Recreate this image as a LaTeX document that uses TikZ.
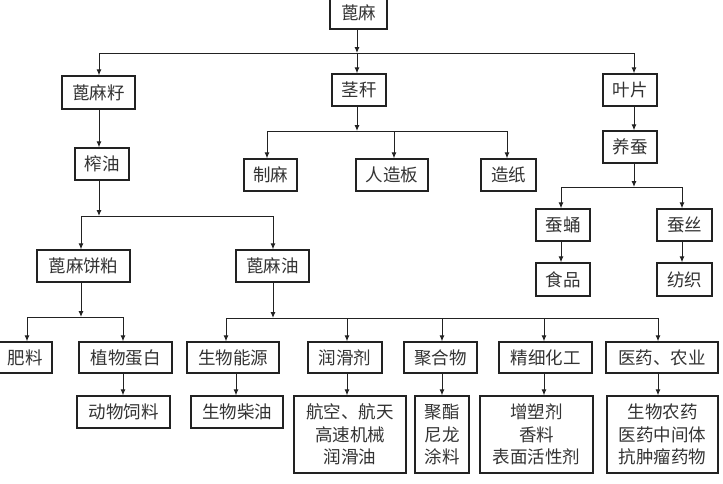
\documentclass[tikz,border=0pt]{standalone}
\usepackage{fontspec}
\newfontfamily\cjk{Noto Sans CJK SC}
\usetikzlibrary{arrows.meta}
\definecolor{ink}{HTML}{222222}
\definecolor{txt}{HTML}{333333}
\newcommand\bx[6]{\node[box,minimum width={#3-#2},minimum height={#5-#4}] (#1) at ({(#2+#3)/2},{(#4+#5)/2}) {#6};}
\begin{document}
\begin{tikzpicture}[x=1pt,y=-1pt,
  box/.style={draw=ink,line width=1.3pt,inner sep=0pt,align=center,text=txt,
    font=\cjk\fontsize{17.5}{22.5}\selectfont},
  con/.style={draw=ink,line width=1pt},
  arr/.style={con,-{Latex[length=6pt,width=5pt]}}]
\useasboundingbox (0,0) rectangle (723,483);
\fill[white] (0,0) rectangle (723,483);
% boxes
\bx{root}{330}{387}{-4}{29}{蓖麻}
\bx{seed}{62}{135}{76}{109}{蓖麻籽}
\bx{stem}{332}{386}{74}{106}{茎秆}
\bx{leaf}{603}{657}{74}{106}{叶片}
\bx{press}{75}{129}{148}{180}{榨油}
\bx{hemp}{244}{297}{159}{191}{制麻}
\bx{board}{356}{428}{159}{191}{人造板}
\bx{paper}{481}{536}{159}{191}{造纸}
\bx{rear}{603}{657}{131}{163}{养蚕}
\bx{pupa}{536}{590}{209}{241}{蚕蛹}
\bx{thread}{657}{712}{209}{241}{蚕丝}
\bx{food}{536}{590}{263}{296}{食品}
\bx{textile}{657}{712}{263}{296}{纺织}
\bx{cake}{37}{130}{250}{282}{蓖麻饼粕}
\bx{oil}{236}{309}{250}{282}{蓖麻油}
\bx{fert}{-1}{52}{342}{373}{肥料}
\bx{protein}{79}{172}{342}{373}{植物蛋白}
\bx{feed}{77}{170}{396}{428}{动物饲料}
\bx{energy}{187}{279}{342}{373}{生物能源}
\bx{diesel}{191}{283}{396}{428}{生物柴油}
\bx{lube}{308}{382}{342}{373}{润滑剂}
\bx{aero}{294}{406}{396}{473}{航空、航天\\高速机械\\润滑油}
\bx{poly}{404}{477}{342}{373}{聚合物}
\bx{polyester}{415}{469}{396}{473}{聚酯\\尼龙\\涂料}
\bx{fine}{499}{592}{342}{373}{精细化工}
\bx{plast}{480}{593}{396}{473}{增塑剂\\香料\\表面活性剂}
\bx{med}{606}{718}{342}{373}{医药、农业}
\bx{bio}{607}{718}{396}{473}{生物农药\\医药中间体\\抗肿瘤药物}
% junctions
\coordinate (j1) at (357,53); \coordinate (j1L) at (99,53); \coordinate (j1R) at (634,53);
\coordinate (j2) at (99,216); \coordinate (j2L) at (81,216); \coordinate (j2R) at (273,216);
\coordinate (j3) at (357,131); \coordinate (j3L) at (267,131); \coordinate (j3M) at (394,131); \coordinate (j3R) at (507,131);
\coordinate (j4) at (634,187); \coordinate (j4L) at (561,187); \coordinate (j4R) at (682,187);
\coordinate (j5) at (81,317); \coordinate (j5L) at (27,317); \coordinate (j5R) at (123,317);
\coordinate (j6) at (273,318); \coordinate (j6a) at (226,318); \coordinate (j6b) at (347,318);
\coordinate (j6c) at (442,318); \coordinate (j6d) at (544,318); \coordinate (j6e) at (658,318);
\coordinate (e1) at (236,385);
% level 1
\draw[arr] (j1 |- root.south) -- (j1);
\draw[con] (j1L) -- (j1R);
\draw[arr] (j1L) -- (j1L |- seed.north);
\draw[arr] (j1) -- (j1 |- stem.north);
\draw[arr] (j1R) -- (j1R |- leaf.north);
% seed branch
\draw[arr] (j1L |- seed.south) -- (j1L |- press.north);
\draw[arr] (j2 |- press.south) -- (j2);
\draw[con] (j2L) -- (j2R);
\draw[arr] (j2L) -- (j2L |- cake.north);
\draw[arr] (j2R) -- (j2R |- oil.north);
% stem branch
\draw[arr] (j3 |- stem.south) -- (j3);
\draw[con] (j3L) -- (j3R);
\draw[arr] (j3L) -- (j3L |- hemp.north);
\draw[arr] (j3M) -- (j3M |- board.north);
\draw[arr] (j3R) -- (j3R |- paper.north);
% leaf branch
\draw[arr] (j1R |- leaf.south) -- (j1R |- rear.north);
\draw[arr] (j4 |- rear.south) -- (j4);
\draw[con] (j4L) -- (j4R);
\draw[arr] (j4L) -- (j4L |- pupa.north);
\draw[arr] (j4R) -- (j4R |- thread.north);
\draw[arr] (j4L |- pupa.south) -- (j4L |- food.north);
\draw[arr] (j4R |- thread.south) -- (j4R |- textile.north);
% cake branch
\draw[arr] (j5 |- cake.south) -- (j5);
\draw[con] (j5L) -- (j5R);
\draw[arr] (j5L) -- (j5L |- fert.north);
\draw[arr] (j5R) -- (j5R |- protein.north);
\draw[arr] (j5R |- protein.south) -- (j5R |- feed.north);
% oil branch
\draw[arr] (j6 |- oil.south) -- (j6);
\draw[con] (j6a) -- (j6e);
\draw[arr] (j6a) -- (j6a |- energy.north);
\draw[arr] (j6b) -- (j6b |- lube.north);
\draw[arr] (j6c) -- (j6c |- poly.north);
\draw[arr] (j6d) -- (j6d |- fine.north);
\draw[arr] (j6e) -- (j6e |- med.north);
\draw[arr] (e1 |- energy.south) -- (e1 |- diesel.north);
\draw[arr] (j6b |- lube.south) -- (j6b |- aero.north);
\draw[arr] (j6c |- poly.south) -- (j6c |- polyester.north);
\draw[arr] (j6d |- fine.south) -- (j6d |- plast.north);
\draw[arr] (j6e |- med.south) -- (j6e |- bio.north);
\end{tikzpicture}
\end{document}
